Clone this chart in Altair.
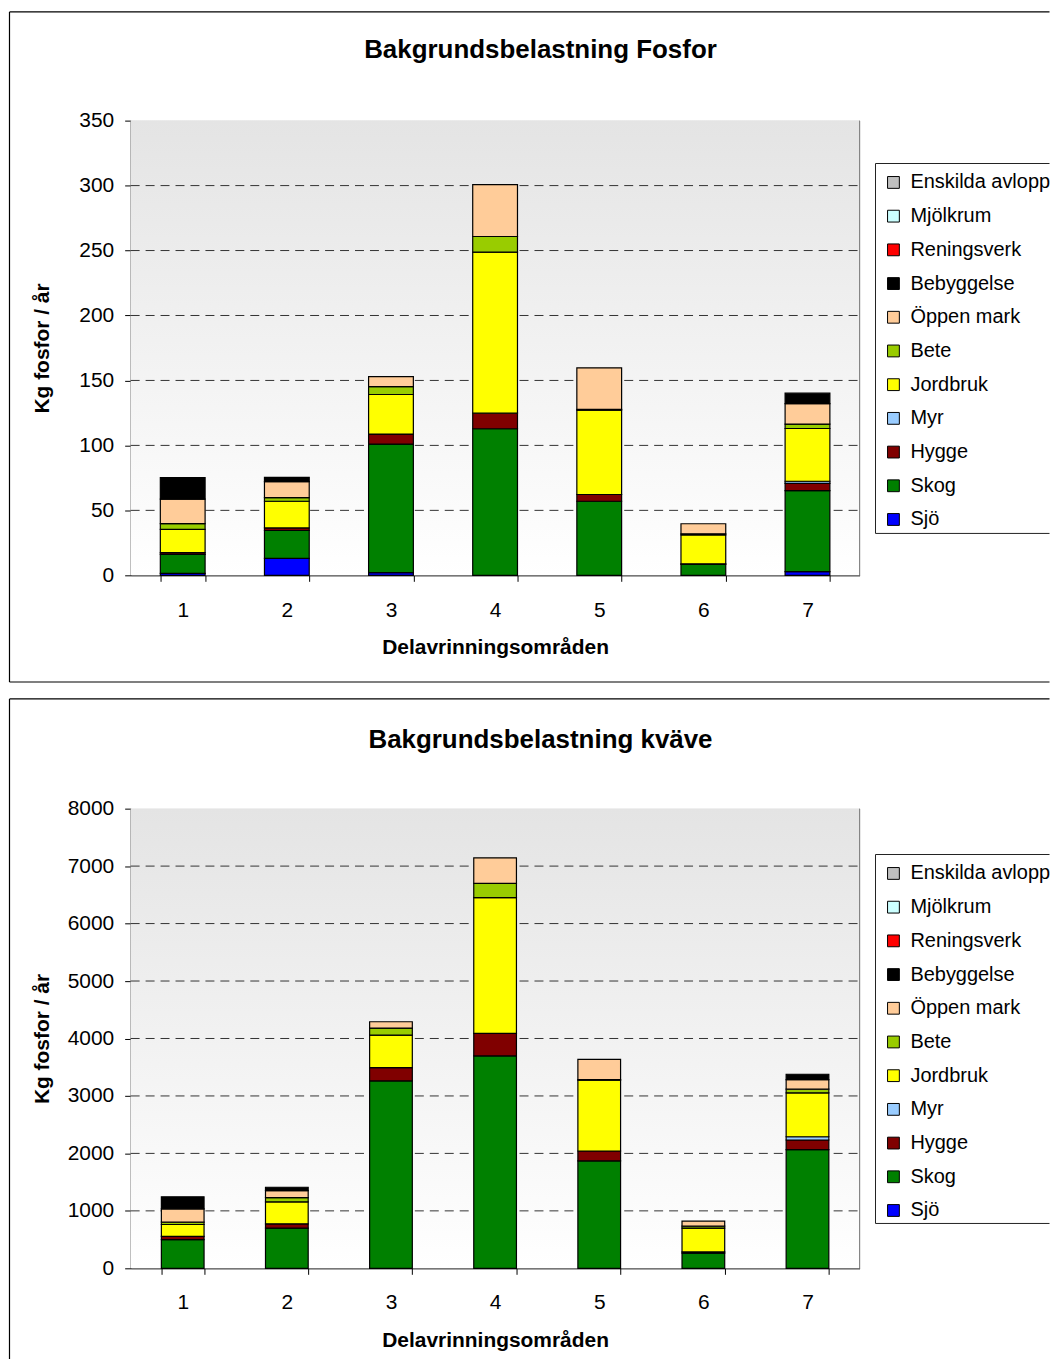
import altair as alt
import pandas as pd

FONT = "Liberation Sans"

areas = ["1", "2", "3", "4", "5", "6", "7"]
# legend order (top to bottom)
sources = ["Enskilda avlopp", "Mjölkrum", "Reningsverk", "Bebyggelse", "Öppen mark",
           "Bete", "Jordbruk", "Myr", "Hygge", "Skog", "Sjö"]
colors = ["#c0c0c0", "#ccffff", "#ff0000", "#000000", "#ffcc99",
          "#99cc00", "#ffff00", "#99ccff", "#800000", "#008000", "#0000ff"]

# Fosfor (kg/år) per delavrinningsområde 1..7
p_sjo = [1.5, 13, 2, 0, 0, 0, 2.8]
p_skog = [14.6, 21.5, 99, 112.8, 57, 8.4, 62.4]
p_hygge = [1.3, 2, 7.7, 12, 5.2, 0.5, 5.6]
p_myr = [0, 0, 0, 0, 0, 0, 1.6]
p_jordbruk = [18, 20.5, 30.5, 124, 65, 22.3, 40.6]
p_bete = [4.4, 2.8, 6.1, 12, 0.5, 0.8, 3.4]
p_oppen = [18.9, 12.3, 7.7, 40, 32, 7.7, 15.8]
p_bebyggelse = [16.6, 3.3, 0, 0, 0, 0, 8]
p_reningsverk = [0, 0, 0, 0, 0, 0, 0]
p_mjolkrum = [0, 0, 0, 0, 0, 0, 0]
p_enskilda = [0, 0, 0, 0, 0, 0, 0]

# Kväve (kg/år)
n_sjo = [0, 0, 0, 0, 0, 0, 0]
n_skog = [498, 700, 3262, 3696, 1869, 266, 2065]
n_hygge = [57, 75, 231, 394, 173, 20, 168]
n_myr = [0, 0, 0, 0, 0, 0, 57]
n_jordbruk = [208, 382, 567, 2360, 1232, 414, 764]
n_bete = [40, 75, 122, 248, 10, 34, 64]
n_oppen = [233, 121, 109, 446, 353, 87, 167]
n_bebyggelse = [208, 58, 0, 0, 0, 0, 93]
n_reningsverk = [0, 0, 0, 0, 0, 0, 0]
n_mjolkrum = [0, 0, 0, 0, 0, 0, 0]
n_enskilda = [0, 0, 0, 0, 0, 0, 0]

p_ticks = [0, 50, 100, 150, 200, 250, 300, 350]
p_grid = [50, 100, 150, 200, 250, 300]
n_ticks = [0, 1000, 2000, 3000, 4000, 5000, 6000, 7000, 8000]
n_grid = [1000, 2000, 3000, 4000, 5000, 6000, 7000]

p_series = {"Sjö": p_sjo, "Skog": p_skog, "Hygge": p_hygge, "Myr": p_myr,
            "Jordbruk": p_jordbruk, "Bete": p_bete, "Öppen mark": p_oppen,
            "Bebyggelse": p_bebyggelse, "Reningsverk": p_reningsverk,
            "Mjölkrum": p_mjolkrum, "Enskilda avlopp": p_enskilda}
n_series = {"Sjö": n_sjo, "Skog": n_skog, "Hygge": n_hygge, "Myr": n_myr,
            "Jordbruk": n_jordbruk, "Bete": n_bete, "Öppen mark": n_oppen,
            "Bebyggelse": n_bebyggelse, "Reningsverk": n_reningsverk,
            "Mjölkrum": n_mjolkrum, "Enskilda avlopp": n_enskilda}

LEFT = 130      # page x of both plot areas
RIGHT = 861     # page x of plot right edge
FRAME_L = 8.5
EDGE_R = 1051.5  # right end of open frames (window edge)


def to_long(series):
    rows = []
    for src, vals in series.items():
        idx = len(sources) - 1 - sources.index(src)  # Sjö = 0 at bottom
        for a, v in zip(areas, vals):
            if v > 0:
                rows.append({"area": a, "source": src, "value": v, "idx": idx})
    return pd.DataFrame(rows)


def open_box(one, x_left, y_top, y_bottom, top, color, width, with_bottom=True):
    """Left, top (and bottom) sides of a box whose right side is off the page."""
    parts = []
    parts.append(alt.Chart(one).mark_rule(color=color, strokeWidth=width).encode(
        x=alt.value(x_left - LEFT), x2=alt.value(EDGE_R - LEFT),
        y=alt.value(y_top - top)))
    if with_bottom:
        parts.append(alt.Chart(one).mark_rule(color=color, strokeWidth=width).encode(
            x=alt.value(x_left - LEFT), x2=alt.value(EDGE_R - LEFT),
            y=alt.value(y_bottom - top)))
    parts.append(alt.Chart(one).mark_rule(color=color, strokeWidth=width).encode(
        x=alt.value(x_left - LEFT), y=alt.value(y_top - top),
        y2=alt.value(y_bottom - top)))
    return parts


def build(series, title, ymax, ticks, grid, H, top, frame_top, frame_bottom,
          frame_closed, legend_top, legend_bottom, first_entry, title_y,
          ytitle_page_x, bar_ratio, label_pad, xtitle_y):
    W = RIGHT - LEFT
    df = to_long(series)
    one = pd.DataFrame({"t": [title]})
    pin = 1 - bar_ratio
    xscale = alt.Scale(domain=areas, paddingInner=pin, paddingOuter=pin / 2)
    yscale = alt.Scale(domain=[0, ymax], nice=False)

    bg = alt.Chart(one).mark_rect(
        fill=alt.Gradient(gradient="linear",
                          stops=[alt.GradientStop(color="#e4e4e4", offset=0),
                                 alt.GradientStop(color="#ffffff", offset=1)],
                          x1=0, x2=0, y1=0, y2=1)
    ).encode(x=alt.value(0), x2=alt.value(W), y=alt.value(0), y2=alt.value(H))

    legend_bg = alt.Chart(one).mark_rect(fill="white").encode(
        x=alt.value(877 - LEFT), x2=alt.value(EDGE_R - LEFT),
        y=alt.value(legend_top - top), y2=alt.value(legend_bottom - top))

    gdf = pd.DataFrame({"v": grid})
    grid_rules = alt.Chart(gdf).mark_rule(color="#333333", strokeWidth=1,
                                          strokeDash=[9, 6]).encode(
        y=alt.Y("v:Q", scale=yscale),
        x=alt.value(0), x2=alt.value(W))

    bars = alt.Chart(df).mark_bar(stroke="black", strokeWidth=1.2).encode(
        x=alt.X("area:N", scale=xscale, sort=areas,
                axis=alt.Axis(title="Delavrinningsområden", labelAngle=0,
                              tickBand="extent", tickSize=6, tickColor="black",
                              domainColor="black", labelFont=FONT, labelFontSize=21,
                              labelColor="black", labelPadding=label_pad,
                              titleFont=FONT, titleFontSize=21, titleFontWeight="bold",
                              titleColor="black", titleY=xtitle_y,
                              titleBaseline="middle")),
        y=alt.Y("value:Q", stack="zero", scale=yscale,
                axis=alt.Axis(title="Kg  fosfor / år", values=ticks, format="d",
                              grid=False, tickSize=6, tickColor="black",
                              domainColor="black", labelFont=FONT, labelFontSize=21,
                              labelColor="black", labelPadding=11,
                              titleFont=FONT, titleFontSize=21, titleFontWeight="bold",
                              titleColor="black", titleAngle=270,
                              titleX=ytitle_page_x - LEFT,
                              titleY=H / 2, titleAlign="center",
                              titleBaseline="middle")),
        color=alt.Color("source:N", title=None,
                        scale=alt.Scale(domain=sources, range=colors),
                        legend=alt.Legend(orient="none", legendX=885 - LEFT,
                                          legendY=first_entry - 10 - top,
                                          symbolType="square",
                                          symbolSize=140, symbolStrokeColor="black",
                                          symbolStrokeWidth=1, labelFont=FONT,
                                          labelFontSize=20, labelColor="black",
                                          rowPadding=13.8, padding=0,
                                          labelOffset=7, labelLimit=200)),
        order=alt.Order("idx:Q", sort="ascending"),
    )

    right_edge = alt.Chart(one).mark_rule(color="#808080", strokeWidth=1).encode(
        x=alt.value(W), y=alt.value(0), y2=alt.value(H))

    frame = open_box(one, FRAME_L, frame_top, frame_bottom, top, "black", 1.2,
                     with_bottom=frame_closed)
    lbox = open_box(one, 877, legend_top, legend_bottom, top, "#222222", 1)

    ttl = alt.Chart(one).mark_text(font=FONT, fontSize=26, fontWeight="bold",
                                   color="black", align="center",
                                   baseline="middle").encode(
        text="t:N", x=alt.value(541 - LEFT), y=alt.value(title_y - top))
    return alt.layer(bg, legend_bg, grid_rules, bars, right_edge, *frame, *lbox,
                     ttl).properties(width=W, height=H)


top_chart = build(p_series, "Bakgrundsbelastning Fosfor", 350, p_ticks, p_grid,
                  456, 121, 12, 684, True, 164, 535, 183, 50, 42, 0.43, 18, 72)
bottom_chart = build(n_series, "Bakgrundsbelastning kväve", 8000, n_ticks, n_grid,
                     461, 808, 698, 1360, False, 854, 1224, 873, 739, 42, 0.41, 17, 72)

chart = alt.vconcat(top_chart, bottom_chart, spacing=13).resolve_scale(
    x="independent", y="independent", color="independent"
).resolve_legend(color="independent").properties(
    padding={"left": 0, "top": 0, "right": 0, "bottom": 0}
).configure_view(strokeWidth=0).configure(background="white")

chart.save("out.html", embed_options={"renderer": "svg", "actions": False})
